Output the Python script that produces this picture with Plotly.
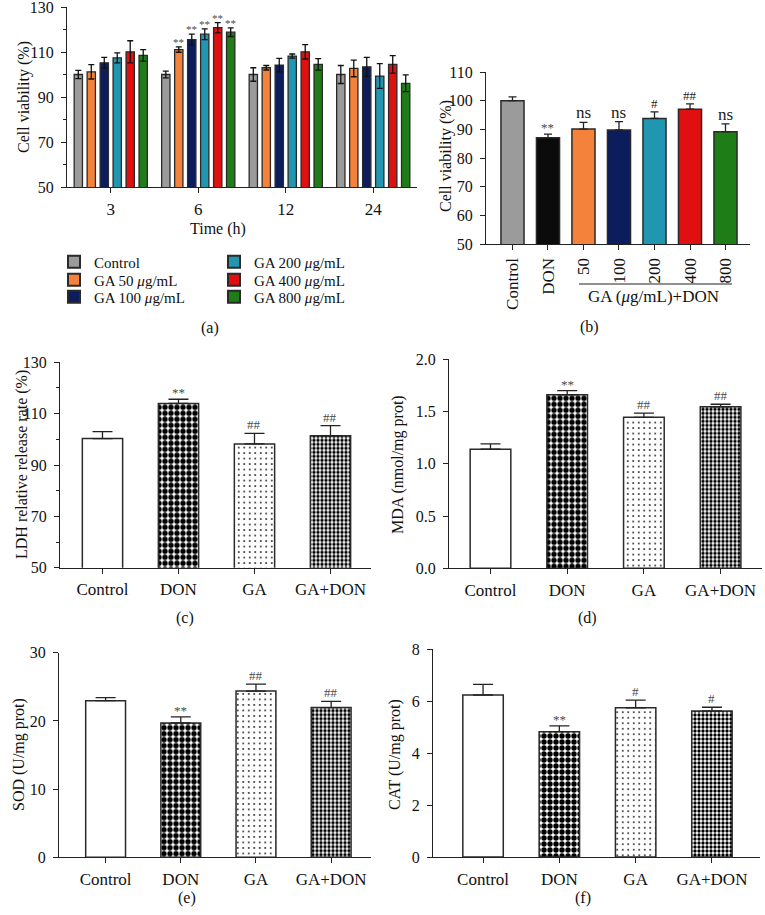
import plotly.graph_objects as go

W, H = 765, 915
FONT = "Liberation Serif"

# ---------------- data ----------------
# Panel (a)
time_labels = ["3", "6", "12", "24"]
series_names = ["Control", "GA 50 <i>μ</i>g/mL", "GA 100 <i>μ</i>g/mL",
                "GA 200 <i>μ</i>g/mL", "GA 400 <i>μ</i>g/mL", "GA 800 <i>μ</i>g/mL"]
series_colors = ["#9a9b9a", "#f5823a", "#0c1d5e", "#2196b0", "#e01010", "#1f7d17"]
a_values = [
    [100.0, 100.0, 100.0, 100.0],   # Control
    [101.2, 111.1, 103.0, 102.7],   # GA 50
    [105.2, 115.5, 104.2, 103.4],   # GA 100
    [107.4, 117.9, 108.2, 99.3],    # GA 200
    [110.1, 120.8, 110.1, 104.5],   # GA 400
    [108.5, 118.8, 104.5, 96.1],    # GA 800
]
a_errors = [
    [1.8, 1.5, 3.0, 4.0],
    [3.2, 1.2, 1.0, 3.7],
    [2.4, 2.4, 3.0, 4.2],
    [2.2, 2.4, 0.9, 5.5],
    [4.9, 2.3, 3.2, 3.9],
    [2.6, 1.9, 2.6, 3.7],
]
a_sig = [
    ["", "", "", ""],
    ["", "**", "", ""],
    ["", "**", "", ""],
    ["", "**", "", ""],
    ["", "**", "", ""],
    ["", "**", "", ""],
]

# Panel (b)
b_labels = ["Control", "DON", "50", "100", "200", "400", "800"]
b_values = [100.0, 87.1, 90.1, 89.8, 93.8, 97.0, 89.2]
b_errors = [1.3, 1.2, 2.3, 2.9, 2.3, 1.9, 2.7]
b_colors = ["#9a9b9a", "#0b0b0b", "#f5823a", "#0c1d5e", "#2196b0", "#e01010", "#1f7d17"]
b_sig = ["", "**", "ns", "ns", "#", "##", "ns"]

# Panels (c)-(f)
groups = ["Control", "DON", "GA", "GA+DON"]
ldh_values = [100.3, 114.0, 98.2, 101.4]
ldh_errors = [2.7, 1.6, 4.1, 3.9]
ldh_sig = ["", "**", "##", "##"]
mda_values = [1.14, 1.66, 1.445, 1.545]
mda_errors = [0.05, 0.04, 0.04, 0.025]
mda_sig = ["", "**", "##", "##"]
sod_values = [22.96, 19.7, 24.38, 21.95]
sod_errors = [0.45, 0.9, 1.0, 0.9]
sod_sig = ["", "**", "##", "##"]
cat_values = [6.23, 4.82, 5.74, 5.62]
cat_errors = [0.41, 0.22, 0.29, 0.14]
cat_sig = ["", "**", "#", "#"]

# ---------------- helpers ----------------
def px(x):
    return x / W

def py(y):
    return 1 - y / H

fig = go.Figure()

AXBASE = dict(showline=True, linecolor="#222", linewidth=1.3, ticks="outside",
              ticklen=5, tickwidth=1.3, tickcolor="#222", showgrid=False,
              zeroline=False, automargin=False, ticklabeloverflow="allow")
XAX = dict(AXBASE, ticklabelstandoff=1, tickfont=dict(family=FONT, size=17, color="#111"))
YAX = dict(AXBASE, ticklabelstandoff=4, tickfont=dict(family=FONT, size=16, color="#111"))

OUT = "#2a2a2a"
SIGC = "#4a4a4a"
group_patterns = [
    dict(shape=""),
    dict(shape=".", size=6, solidity=0.64, fgcolor="#000", bgcolor="#fff", fillmode="replace"),
    dict(shape=".", size=5.5, solidity=0.07, fgcolor="#000", bgcolor="#fff", fillmode="replace"),
    dict(shape=".", size=4, solidity=0.55, fgcolor="#000", bgcolor="#fff", fillmode="replace"),
]

annotations = []
shapes = []


def paper_text(x, y, text, size=15, angle=0):
    return dict(x=px(x), y=py(y), xref="paper", yref="paper", text=text,
                textangle=angle, showarrow=False, xanchor="center", yanchor="middle",
                font=dict(family=FONT, size=size, color="#111"))


def sig_shift(lab):
    if lab.startswith("*"):
        return -3
    if lab.startswith("#"):
        return -1
    return -2


# ---------------- panel (a) ----------------
legend_rows = [262, 280, 297]
legend_cols = [54, 214]
legend_ids = ["legend", "legend2", "legend3", "legend4", "legend5", "legend6"]
for i, name in enumerate(series_names):
    fig.add_trace(go.Bar(
        x=time_labels, y=a_values[i], name=name, xaxis="x", yaxis="y",
        marker=dict(color=series_colors[i], line=dict(color=OUT, width=1.3)),
        error_y=dict(type="data", array=a_errors[i], color="#111", thickness=1.3, width=3),
        offsetgroup=str(i), showlegend=True, legend=legend_ids[i],
    ))

n_series = len(series_names)
for i in range(n_series):
    for j, lab in enumerate(a_sig[i]):
        if lab:
            annotations.append(dict(
                x=j, y=a_values[i][j] + a_errors[i][j], xref="x", yref="y",
                text=lab, showarrow=False, xanchor="center", yanchor="bottom",
                xshift=(i - (n_series - 1) / 2) * 13.0, yshift=-3,
                font=dict(family=FONT, size=11, color=SIGC)))

fig.update_layout(
    xaxis=dict(XAX, domain=[px(67), px(417)], anchor="y", type="category",
               range=[-0.5, 3.5]),
    yaxis=dict(YAX, domain=[py(187), py(7)], anchor="x", range=[50, 130],
               tickvals=[50, 70, 90, 110, 130],
               minor=dict(tickvals=[60, 80, 100, 120], ticklen=3, tickwidth=1.3,
                          tickcolor="#222", ticks="outside")),
)

# ---------------- panel (b) ----------------
fig.add_trace(go.Bar(
    x=list(range(len(b_labels))), y=b_values, xaxis="x2", yaxis="y2", width=0.65,
    marker=dict(color=b_colors, line=dict(color=OUT, width=1.5)),
    error_y=dict(type="data", array=b_errors, arrayminus=[0] * len(b_errors),
                 symmetric=False, color="#222", thickness=1.3, width=4),
    showlegend=False,
))
for j, lab in enumerate(b_sig):
    if lab:
        small = lab.startswith("*") or lab.startswith("#")
        annotations.append(dict(
            x=j, y=b_values[j] + b_errors[j], xref="x2", yref="y2", text=lab,
            showarrow=False, xanchor="center", yanchor="bottom", yshift=sig_shift(lab),
            font=dict(family=FONT, size=13 if small else 17,
                      color=SIGC if lab == "**" else "#222")))

fig.update_layout(
    xaxis2=dict(XAX, domain=[px(486), px(750)], anchor="y2",
                range=[-0.746, 6.69], tickvals=list(range(len(b_labels))),
                ticktext=b_labels, tickangle=-90),
    yaxis2=dict(YAX, domain=[py(244), py(72)], anchor="x2", range=[50, 110],
                tickvals=[50, 60, 70, 80, 90, 100, 110]),
)
shapes.append(dict(type="line", xref="paper", yref="paper",
                   x0=px(579), x1=px(732), y0=py(284), y1=py(284),
                   line=dict(color="#222", width=1.2)))
annotations.append(paper_text(653, 297, "GA (<i>μ</i>g/mL)+DON", 17))

# ---------------- panels (c)-(f) ----------------
panels = [
    ("3", ldh_values, ldh_errors, ldh_sig, [px(60), px(371)], [py(567.7), py(362.3)],
     [-0.559, 3.533], [50, 130], [50, 70, 90, 110, 130], [60, 80, 100, 120],
     "LDH relative release rate (%)", 22, 465),
    ("4", mda_values, mda_errors, mda_sig, [px(449), px(762)], [py(568.3), py(359.3)],
     [-0.541, 3.54], [0, 2], [0, 0.5, 1.0, 1.5, 2.0], None,
     "MDA (nmol/mg prot)", 398, 465),
    ("5", sod_values, sod_errors, sod_sig, [px(59), px(371)], [py(857.3), py(652.7)],
     [-0.62, 3.53], [0, 30], [0, 10, 20, 30], None,
     "SOD (U/mg prot)", 19, 755),
    ("6", cat_values, cat_errors, cat_sig, [px(433), px(760)], [py(857), py(649)],
     [-0.656, 3.63], [0, 8], [0, 2, 4, 6, 8], None,
     "CAT (U/mg prot)", 395, 755),
]

for (k, vals, errs, sig, xd, yd, xr, yr, ytv, minor, ytitle, tx, ty) in panels:
    for g in range(len(groups)):
        fig.add_trace(go.Bar(
            x=[g], y=[vals[g]], xaxis="x" + k, yaxis="y" + k, width=0.53,
            marker=dict(color="#fff", line=dict(color=OUT, width=1.5),
                        pattern=group_patterns[g]),
            error_y=dict(type="data", array=[errs[g]], arrayminus=[0],
                         symmetric=False, color="#222", thickness=1.3, width=10),
            showlegend=False,
        ))
        if sig[g]:
            annotations.append(dict(
                x=g, y=vals[g] + errs[g], xref="x" + k, yref="y" + k, text=sig[g],
                showarrow=False, xanchor="center", yanchor="bottom",
                yshift=sig_shift(sig[g]),
                font=dict(family=FONT, size=13, color=SIGC)))
    yax = dict(YAX, domain=yd, anchor="x" + k, range=yr, tickvals=ytv)
    if k == "4":
        yax["ticktext"] = ["0.0", "0.5", "1.0", "1.5", "2.0"]
    if minor:
        yax["minor"] = dict(tickvals=minor, ticklen=3, tickwidth=1.3,
                            tickcolor="#222", ticks="outside")
    fig.update_layout(**{
        "xaxis" + k: dict(XAX, domain=xd, anchor="y" + k, range=xr,
                          tickvals=list(range(len(groups))), ticktext=groups),
        "yaxis" + k: yax,
    })
    annotations.append(paper_text(tx, ty, ytitle, 16, -90))

# axis titles and panel letters
annotations += [
    paper_text(24, 97, "Cell viability (%)", 16, -90),
    paper_text(446, 156, "Cell viability (%)", 16, -90),
    paper_text(218, 229, "Time (h)", 16),
]
for lab, x, y in [("(a)", 210, 328), ("(b)", 589, 327), ("(c)", 185, 618),
                  ("(d)", 587, 618), ("(e)", 187, 898), ("(f)", 583, 898)]:
    annotations.append(paper_text(x, y, lab, 16))

LEG = dict(font=dict(family=FONT, size=15, color="#111"), bgcolor="rgba(0,0,0,0)",
           orientation="v", xanchor="left", yanchor="middle", tracegroupgap=0,
           itemsizing="constant")
legends = {}
for i, lid in enumerate(legend_ids):
    col, row = divmod(i, 3)
    legends[lid] = dict(LEG, x=px(legend_cols[col]), y=py(legend_rows[row]))

fig.update_layout(
    template="none",
    width=W, height=H, margin=dict(l=0, r=0, t=0, b=0, autoexpand=False),
    paper_bgcolor="white", plot_bgcolor="white",
    barmode="group", bargap=0.11, bargroupgap=0.36,
    font=dict(family=FONT, size=15, color="#111"),
    annotations=annotations, shapes=shapes,
    **legends,
)

fig.write_html("out.html", config={"displayModeBar": False},
               post_script="document.body.style.margin='0';document.body.style.overflow='hidden';")
